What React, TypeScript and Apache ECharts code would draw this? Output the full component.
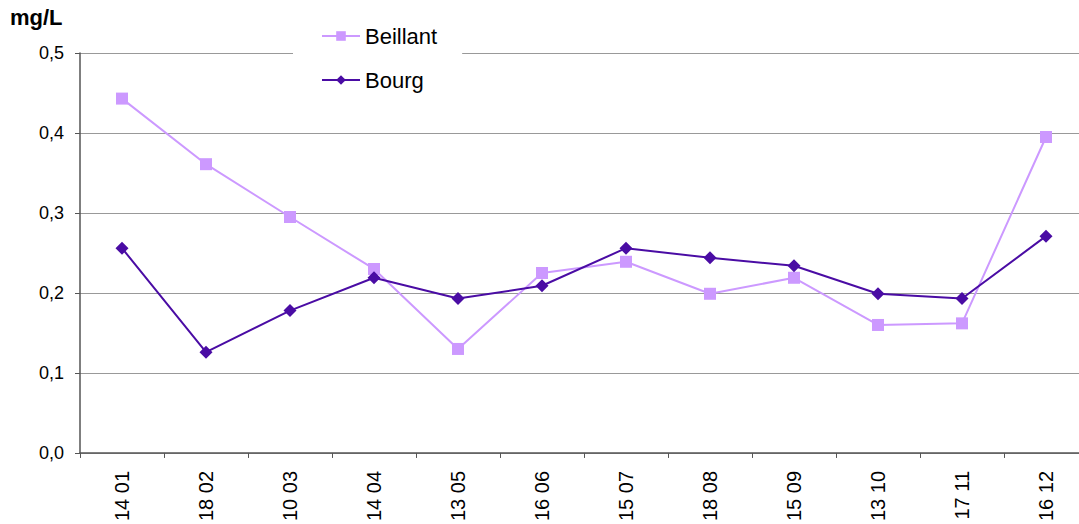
import React, { useEffect, useRef } from "react";
import * as echarts from "echarts";

const categories = ["14 01", "18 02", "10 03", "14 04", "13 05", "16 06", "15 07", "18 08", "15 09", "13 10", "17 11", "16 12"];
const beillant = [0.443, 0.361, 0.295, 0.23, 0.13, 0.225, 0.239, 0.199, 0.219, 0.16, 0.162, 0.395];
const bourg = [0.256, 0.126, 0.178, 0.219, 0.193, 0.209, 0.256, 0.244, 0.234, 0.199, 0.193, 0.271];
const yTicks = { min: 0, max: 0.5, interval: 0.1 };
const unitLabel = "mg/L";

export default function App() {
  const ref = useRef<HTMLDivElement>(null);
  useEffect(() => {
    const chart = echarts.init(ref.current!, null, { renderer: "svg" });
    const font = "'Liberation Sans', Arial, sans-serif";
    chart.setOption({
      animation: false,
      textStyle: { fontFamily: font },
      grid: { left: 80, right: 0, top: 53, bottom: 71, containLabel: false },
      graphic: [
        {
          type: "text",
          left: 10,
          top: 6,
          style: { text: unitLabel, font: `bold 22px ${font}`, fill: "#000" },
        },
      ],
      legend: {
        orient: "vertical",
        left: 293,
        top: 18,
        padding: [6, 25, 6, 28],
        backgroundColor: "#fff",
        itemGap: 20,
        itemWidth: 38,
        itemHeight: 12,
        textStyle: { fontSize: 22, color: "#000", fontFamily: font, lineHeight: 24 },
        data: ["Beillant", "Bourg"],
      },
      xAxis: {
        type: "category",
        data: categories,
        boundaryGap: true,
        axisLine: { lineStyle: { color: "#555", width: 1.5 } },
        axisTick: { show: true, length: 5, lineStyle: { color: "#555" } },
        axisLabel: { rotate: 90, fontSize: 20, color: "#000", margin: 18, fontFamily: font },
        splitLine: { show: false },
      },
      yAxis: {
        type: "value",
        min: yTicks.min,
        max: yTicks.max,
        interval: yTicks.interval,
        axisLine: { show: true, lineStyle: { color: "#555", width: 1.5 } },
        axisTick: { show: true, length: 5, lineStyle: { color: "#555" } },
        axisLabel: {
          fontSize: 18,
          color: "#000",
          margin: 16,
          fontFamily: font,
          formatter: (v: number) => v.toFixed(1).replace(".", ","),
        },
        splitLine: { show: true, lineStyle: { color: "#999", width: 1 } },
      },
      series: [
        {
          name: "Beillant",
          type: "line",
          data: beillant,
          symbol: "rect",
          symbolSize: 12,
          color: "#CC99FF",
          lineStyle: { color: "#CC99FF", width: 2 },
          itemStyle: { color: "#CC99FF" },
          z: 2,
        },
        {
          name: "Bourg",
          type: "line",
          data: bourg,
          symbol: "diamond",
          symbolSize: 13,
          color: "#4A0CA4",
          lineStyle: { color: "#4A0CA4", width: 2 },
          itemStyle: { color: "#4A0CA4" },
          z: 3,
        },
      ],
    });
    return () => chart.dispose();
  }, []);
  return (
    <div style={{ position: "absolute", left: 0, top: 0, width: 1079, height: 524, overflow: "hidden" }}>
      <div ref={ref} style={{ width: 1088, height: 524 }} />
    </div>
  );
}
